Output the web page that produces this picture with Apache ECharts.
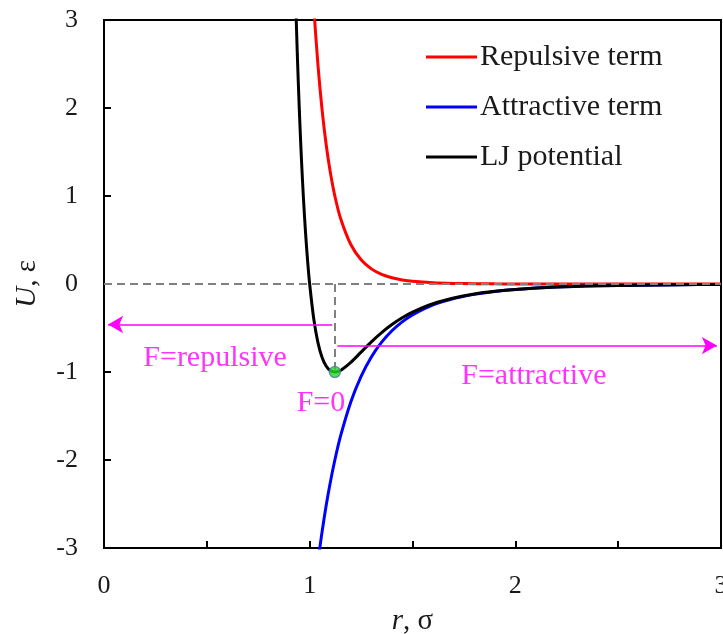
<!DOCTYPE html>
<html>
<head>
<meta charset="utf-8">
<script src="https://cdn.jsdelivr.net/npm/echarts@6/dist/echarts.min.js"></script>
<style>
  html, body { margin: 0; padding: 0; background: #fff; }
  #chart { width: 723px; height: 634px; }
</style>
</head>
<body>
<div id="chart"></div>
<script>
// Lennard-Jones potential and its two terms, in reduced units (r in σ, U in ε)
const repulsiveR = [1.00, 1.02, 1.04, 1.06, 1.08, 1.10, 1.1225, 1.15, 1.20, 1.25, 1.30, 1.35, 1.40, 1.45, 1.50, 1.60, 1.70, 1.80, 1.90, 2.00, 2.20, 2.40, 2.60, 2.80, 3.00];
const repulsiveU = [4.000, 3.154, 2.498, 1.988, 1.588, 1.275, 1.000, 0.748, 0.449, 0.275, 0.172, 0.109, 0.0706, 0.0463, 0.0308, 0.0142, 0.0069, 0.0035, 0.0018, 0.0010, 0.0003, 0.0001, 0.0000, 0.0000, 0.0000];

const attractiveR = [1.04, 1.06, 1.08, 1.10, 1.1225, 1.15, 1.20, 1.25, 1.30, 1.35, 1.40, 1.45, 1.50, 1.60, 1.70, 1.80, 1.90, 2.00, 2.20, 2.40, 2.60, 2.80, 3.00];
const attractiveU = [-3.161, -2.820, -2.521, -2.258, -2.000, -1.729, -1.340, -1.049, -0.829, -0.661, -0.531, -0.430, -0.351, -0.238, -0.166, -0.118, -0.085, -0.0625, -0.0353, -0.0209, -0.0129, -0.0083, -0.0055];

const ljR = [0.93, 0.94, 0.95, 0.96, 0.97, 0.98, 0.99, 1.00, 1.02, 1.04, 1.06, 1.08, 1.10, 1.1225, 1.15, 1.20, 1.25, 1.30, 1.35, 1.40, 1.45, 1.50, 1.60, 1.70, 1.80, 1.90, 2.00, 2.20, 2.40, 2.60, 2.80, 3.00];
const ljU = [3.373, 2.606, 1.961, 1.418, 0.963, 0.582, 0.264, 0.000, -0.398, -0.663, -0.832, -0.932, -0.983, -1.000, -0.982, -0.891, -0.774, -0.657, -0.552, -0.461, -0.384, -0.320, -0.224, -0.159, -0.114, -0.083, -0.0615, -0.035, -0.0208, -0.0129, -0.0083, -0.0055];

// equilibrium separation (minimum of the potential, zero force)
const minPoint = [1.1225, -1];

// force-direction arrows: [x start, x end, y]
const repulsiveArrow = [1.11, 0.02, -0.46];
const attractiveArrow = [1.135, 2.98, -0.70];

// annotation texts and their anchor positions [x, y]
const notes = [
  { text: 'F=repulsive', at: [0.54, -0.84] },
  { text: 'F=attractive', at: [2.09, -1.05] },
  { text: 'F=0', at: [1.055, -1.35] }
];

const xTicks = { min: 0, max: 3, step: 0.5 };
const yTicks = { min: -3, max: 3, step: 1 };

const serif = "'Liberation Serif', 'Times New Roman', serif";
const ink = '#1a1a1a';
const magenta = '#ff00ff';
const zip = (xs, ys) => xs.map((x, i) => [x, ys[i]]);

const chart = echarts.init(document.getElementById('chart'));

chart.setOption({
  animation: false,
  backgroundColor: '#ffffff',
  textStyle: { fontFamily: serif },
  grid: {
    left: 104, right: 2, top: 20, bottom: 86,
    outerBoundsMode: 'none',
    containLabel: false,
    show: true, borderColor: '#000', borderWidth: 2, backgroundColor: 'transparent'
  },
  legend: {
    orient: 'vertical',
    left: 421, top: 37,
    icon: 'rect',
    itemWidth: 51, itemHeight: 3, itemGap: 20,
    textStyle: { fontFamily: serif, fontSize: 30, color: ink, padding: [0, 0, 0, -2] },
    data: ['Repulsive term', 'Attractive term', 'LJ potential']
  },
  xAxis: {
    type: 'value',
    min: xTicks.min, max: xTicks.max, interval: xTicks.step,
    name: '{i|r}, σ',
    nameLocation: 'middle', nameGap: 59,
    nameTextStyle: {
      fontFamily: serif, fontSize: 29, color: ink,
      rich: { i: { fontFamily: serif, fontSize: 29, fontStyle: 'italic', color: ink } }
    },
    axisLine: { onZero: false, lineStyle: { color: '#000', width: 2 } },
    axisTick: { inside: true, length: 7, lineStyle: { color: '#000', width: 2 } },
    axisLabel: {
      fontFamily: serif, fontSize: 26, color: ink, margin: 25,
      formatter: v => (Math.abs(v - Math.round(v)) < 1e-9 ? String(Math.round(v)) : '')
    },
    splitLine: { show: false }
  },
  yAxis: {
    type: 'value',
    min: yTicks.min, max: yTicks.max, interval: yTicks.step,
    name: '{i|U}, ε',
    nameLocation: 'middle', nameGap: 62,
    nameTextStyle: {
      fontFamily: serif, fontSize: 29, color: ink,
      rich: { i: { fontFamily: serif, fontSize: 29, fontStyle: 'italic', color: ink } }
    },
    axisLine: { onZero: false, lineStyle: { color: '#000', width: 2 } },
    axisTick: { inside: true, length: 7, lineStyle: { color: '#000', width: 2 } },
    axisLabel: { fontFamily: serif, fontSize: 26, color: ink, margin: 26 },
    splitLine: { show: false }
  },
  series: [
    {
      // guide lines: U = 0 and the drop from U = 0 to the minimum
      name: 'guides',
      type: 'line',
      data: [],
      silent: true,
      markLine: {
        silent: true,
        symbol: ['none', 'none'],
        label: { show: false },
        lineStyle: { color: '#808080', width: 2, type: [8, 5] },
        data: [
          [{ coord: [xTicks.min, 0] }, { coord: [xTicks.max, 0] }],
          [{ coord: [minPoint[0], 0] }, { coord: minPoint }]
        ]
      }
    },
    {
      name: 'arrows',
      type: 'line',
      data: [],
      silent: true,
      markLine: {
        silent: true,
        symbol: ['none', 'arrow'],
        symbolSize: [13, 15],
        label: { show: false },
        lineStyle: { color: magenta, width: 1.5, type: 'solid' },
        itemStyle: { color: magenta },
        data: [
          [{ coord: [repulsiveArrow[0], repulsiveArrow[2]] }, { coord: [repulsiveArrow[1], repulsiveArrow[2]] }],
          [{ coord: [attractiveArrow[0], attractiveArrow[2]] }, { coord: [attractiveArrow[1], attractiveArrow[2]] }]
        ]
      }
    },
    {
      name: 'Repulsive term',
      type: 'line',
      data: zip(repulsiveR, repulsiveU),
      smooth: 0.3,
      symbol: 'none',
      clip: true,
      color: '#ff0000',
      lineStyle: { color: '#ff0000', width: 3 }
    },
    {
      name: 'Attractive term',
      type: 'line',
      data: zip(attractiveR, attractiveU),
      smooth: 0.3,
      symbol: 'none',
      clip: true,
      color: '#0000ff',
      lineStyle: { color: '#0000ff', width: 3 }
    },
    {
      name: 'LJ potential',
      type: 'line',
      data: zip(ljR, ljU),
      smooth: 0.3,
      symbol: 'none',
      clip: true,
      color: '#000000',
      lineStyle: { color: '#000000', width: 3 }
    },
    {
      name: 'minimum',
      type: 'scatter',
      data: [minPoint],
      symbol: 'circle',
      symbolSize: 11,
      z: 5,
      itemStyle: { color: '#22dd22', borderColor: '#4f7fa3', borderWidth: 1.5 }
    },
    {
      name: 'notes',
      type: 'scatter',
      data: notes.map(n => ({ value: n.at, name: n.text })),
      symbolSize: 1,
      itemStyle: { color: 'rgba(0,0,0,0)' },
      silent: true,
      label: {
        show: true,
        position: 'inside',
        formatter: p => p.name,
        fontFamily: serif,
        fontSize: 30,
        color: magenta
      }
    }
  ]
});
</script>
</body>
</html>
